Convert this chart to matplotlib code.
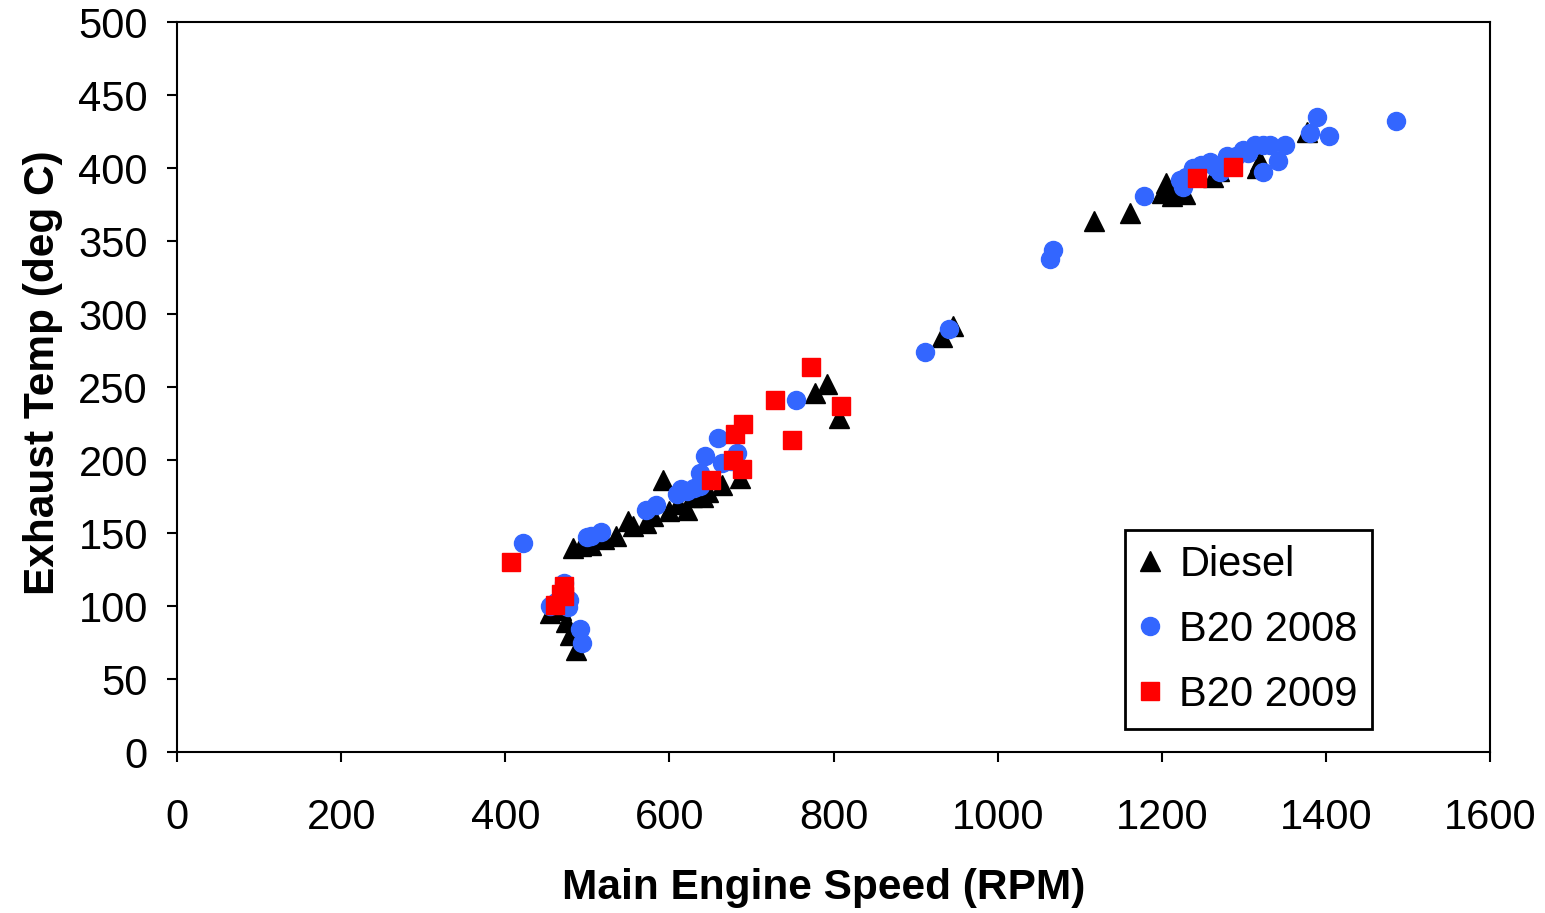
import matplotlib.pyplot as plt

plt.rcParams['font.family'] = ['Liberation Sans', 'DejaVu Sans']

# Diesel
diesel_rpm = [455, 462, 468, 474, 479, 486,
              483, 492, 505, 520, 535,
              550, 556, 572, 580, 592, 600, 610, 621, 628, 641, 647, 664, 686,
              777, 792, 807,
              932, 946,
              1118, 1161, 1200, 1205, 1212, 1220, 1228, 1263, 1270, 1316, 1320, 1377]
diesel_temp = [95, 100, 97, 89, 80, 70,
               140, 141, 142, 146, 148,
               158, 155, 157, 162, 186, 165, 170, 166, 175, 175, 178, 183, 188,
               246, 252, 229,
               284, 292,
               364, 369, 383, 390, 381, 384, 382, 394, 398, 400, 405, 425]

# B20 2008
b2008_rpm = [421, 455, 462, 471, 476, 478, 491, 494,
             500, 505, 517, 572, 584, 609, 614, 621, 630, 637, 637, 643, 659, 664, 675, 682,
             754, 911, 941, 1064, 1068, 1178,
             1222, 1226, 1230, 1238, 1248, 1259, 1265, 1271, 1279, 1290, 1299, 1305, 1314,
             1323, 1323, 1332, 1342, 1350, 1381, 1389, 1404, 1485]
b2008_temp = [143, 100, 103, 116, 99, 104, 84, 75,
              147, 148, 151, 166, 169, 177, 180, 179, 181, 182, 191, 203, 215, 198, 199, 205,
              241, 274, 290, 338, 344, 381,
              392, 387, 394, 400, 402, 404, 401, 397, 408, 408, 412, 410, 416,
              397, 416, 416, 405, 416, 424, 435, 422, 432]

# B20 2009
b2009_rpm = [407, 461, 468, 472, 472, 651, 677, 680, 688, 690, 729, 750, 772, 809, 1243, 1287]
b2009_temp = [130, 101, 108, 107, 114, 186, 200, 218, 194, 225, 241, 214, 264, 237, 393, 401]

fig = plt.figure(figsize=(15.45, 9.13), dpi=100)
ax = fig.add_axes([0.1146, 0.1763, 0.8498, 0.7996])

ax.plot(diesel_rpm, diesel_temp, '^', color='black', markersize=14, linestyle='none', label='Diesel')
ax.plot(b2008_rpm, b2008_temp, 'o', color='#3366FF', markersize=13, linestyle='none', label='B20 2008')
ax.plot(b2009_rpm, b2009_temp, 's', color='#FF0000', markersize=12.5, linestyle='none', label='B20 2009')

ax.set_xlim(0, 1600)
ax.set_ylim(0, 500)
ax.set_xticks(range(0, 1601, 200))
ax.set_yticks(range(0, 501, 50))
ax.tick_params(labelsize=30, length=7, width=1.5, direction='out')
ax.tick_params(axis='x', pad=26)
ax.tick_params(axis='y', pad=14)
for s in ax.spines.values():
    s.set_linewidth(1.5)

ax.set_xlabel('Main Engine Speed (RPM)', fontsize=30.5, fontweight='bold', labelpad=22)
ax.set_ylabel('Exhaust Temp (deg C)', fontsize=30.5, fontweight='bold', labelpad=11)
ax.xaxis.label.set_x(0.4924)
ax.yaxis.label.set_y(0.52)

leg = ax.legend(loc='upper left', bbox_to_anchor=(0.722, 0.304), borderaxespad=0,
                fontsize=30, fancybox=False, edgecolor='black', framealpha=1,
                handlelength=0.5, handletextpad=0.45, labelspacing=0.6, borderpad=0.35,
                markerscale=1.0)
leg.get_frame().set_linewidth(2)

fig.savefig('out.png', dpi=100)
